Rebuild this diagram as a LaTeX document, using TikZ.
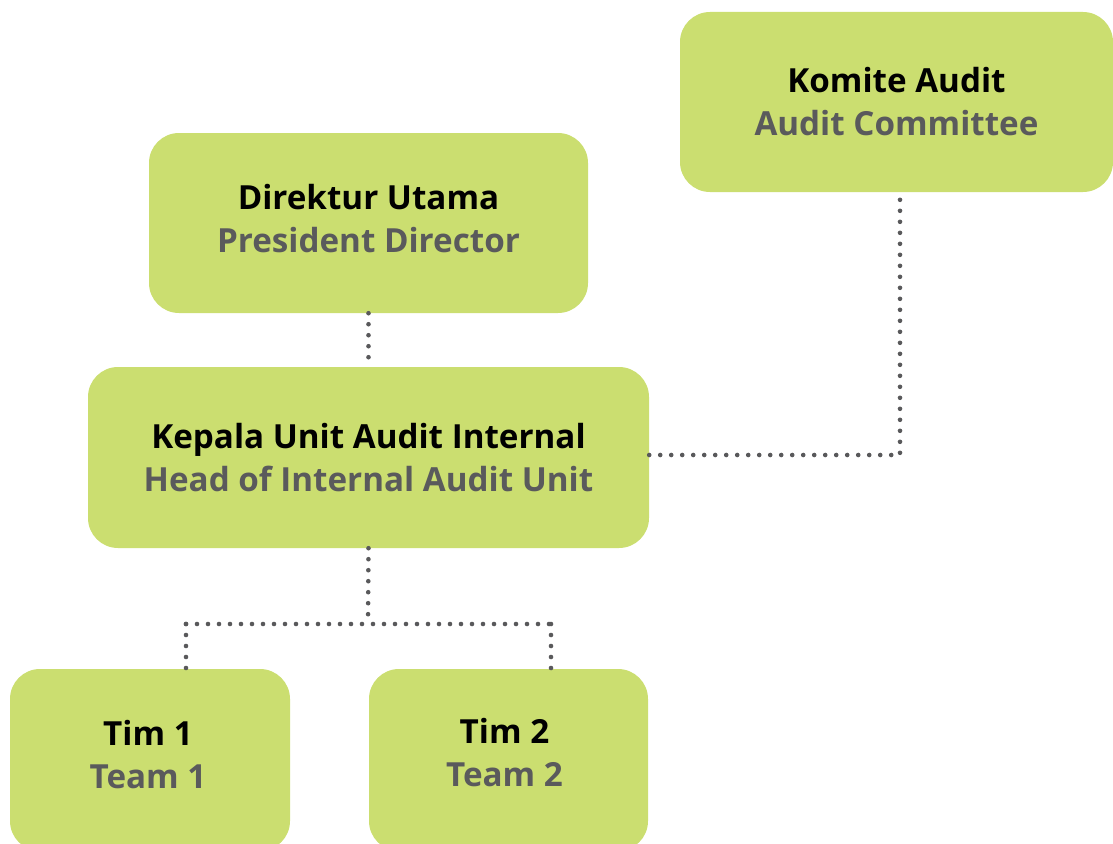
\documentclass[tikz,border=0pt]{standalone}
\usepackage{fontspec}
\setmainfont{Open Sans}
\usetikzlibrary{calc}
\definecolor{boxgreen}{HTML}{CBDE70}
\definecolor{subgray}{HTML}{5A5A5C}
\definecolor{dotgray}{HTML}{59595B}
\tikzset{
  x=1pt, y=-1pt,
  orgbox/.style={fill=boxgreen, draw=none, rounded corners=30pt, inner sep=0pt},
  orgtext/.style={align=center, font=\fontsize{33.2}{43}\selectfont\bfseries, inner sep=0pt},
  dotline/.style={dotgray, line width=4.6pt, line cap=round, dash pattern=on 0pt off 11pt},
}
\newcommand{\twolines}[2]{#1\\\textcolor{subgray}{#2}}
\begin{document}
\begin{tikzpicture}
\useasboundingbox (0,0) rectangle (1113,843);
\begin{scope}
\clip (0,0) rectangle (1113,843);
\node[orgbox, minimum width=433pt, minimum height=180pt] (komite) at (896.5,102) {};
\node[orgbox, minimum width=439pt, minimum height=180pt] (dirut) at (368.5,223) {};
\node[orgbox, minimum width=561pt, minimum height=181pt] (kepala) at (368.5,457.5) {};
\node[orgbox, minimum width=280pt, minimum height=182pt] (tim1) at (150,760) {};
\node[orgbox, minimum width=279pt, minimum height=182pt] (tim2) at (508.5,760) {};
\end{scope}
\node[orgtext] (komite-t) at ($(komite)+(0,0)$) {\twolines{Komite Audit}{Audit Committee}};
\node[orgtext] (dirut-t) at ($(dirut)+(0,-4)$) {\twolines{Direktur Utama}{President Director}};
\node[orgtext] (kepala-t) at ($(kepala)+(0,0)$) {\twolines{Kepala Unit Audit Internal}{Head of Internal Audit Unit}};
\node[orgtext] (tim1-t) at ($(tim1)+(-2,-5)$) {\twolines{Tim 1}{Team 1}};
\node[orgtext] (tim2-t) at ($(tim2)+(-4,-7)$) {\twolines{Tim 2}{Team 2}};
\coordinate (mid) at (368,624);
\coordinate (j1) at (186,624);
\coordinate (j2) at (551,624);
\coordinate (kr) at (900,455);
\draw[dotline] (dirut.south) -- (kepala.north);
\draw[dotline] (kepala.south) -- (mid);
\draw[dotline] (j1) -- (j2);
\draw[dotline] (j1) -- (j1 |- tim1.north);
\draw[dotline] (j2) -- (j2 |- tim2.north);
\draw[dotline] (kepala.east |- kr) -- (kr) -- (kr |- komite.south);
\end{tikzpicture}
\end{document}
